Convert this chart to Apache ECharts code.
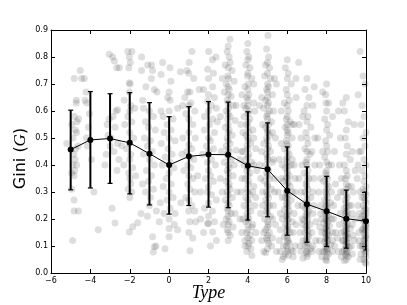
<!DOCTYPE html>
<html><head><meta charset="utf-8">
<script src="https://cdn.jsdelivr.net/npm/echarts@6/dist/echarts.min.js"></script>
<style>html,body{margin:0;padding:0;background:#fff}#c{width:407px;height:305px}</style>
</head><body><div id="c"></div>
<script>
// Type categories and summary statistics (mean with error bar ends)
const types = [-5,-4,-3,-2,-1,0,1,2,3,4,5,6,7,8,9,10];
const means = [.457,.493,.498,.482,.442,.400,.432,.439,.438,.397,.384,.305,.255,.229,.201,.192];
const upper = [.603,.672,.664,.668,.631,.579,.616,.635,.633,.597,.556,.467,.393,.358,.307,.300];
const lower = [.308,.315,.332,.293,.252,.218,.250,.244,.242,.196,.208,.140,.114,.098,.092,.085];
const xTicks = [-6,-4,-2,0,2,4,6,8,10];

// Individual observations, grouped by type
const ptsM5 = [[-4.82,.72],[-4.51,.75],[-4.31,.72],[-4.71,.64],[-4.72,.63],[-4.82,.58],[-4.68,.56],[-4.77,.53],[-4.88,.50],[-4.70,.52],[-4.95,.55],[-4.62,.47],[-4.85,.44],[-4.78,.42],[-4.90,.40],[-4.70,.40],[-4.80,.38],[-4.95,.37],[-4.83,.36],[-4.95,.31],[-4.83,.27],[-4.83,.23],[-4.61,.23],[-4.90,.12],[-4.60,.57],[-4.75,.46],[-5.20,.48]];
const ptsM4 = [[-4.44,.72],[-4.27,.64],[-4.22,.67],[-4.19,.63],[-4.10,.54],[-4.20,.50],[-4.15,.47],[-3.82,.30],[-3.60,.16],[-3.95,.42],[-4.05,.59]];
const ptsM3 = [[-3.04,.81],[-2.87,.80],[-2.78,.785],[-2.53,.76],[-2.66,.76],[-2.70,.60],[-2.62,.605],[-3.04,.57],[-3.0,.47],[-3.26,.40],[-2.75,.54],[-2.85,.58],[-2.62,.48],[-2.90,.24],[-2.75,.185],[-2.65,.38],[-3.10,.51],[-2.95,.50],[-3.20,.44],[-2.80,.45],[-3.15,.55],[-2.55,.42]];
const ptsM2 = [[-2.10,.82],[-1.89,.82],[-2.02,.80],[-1.97,.78],[-2.05,.76],[-2.02,.705],[-1.98,.70],[-2.03,.67],[-2.28,.64],[-1.95,.62],[-2.00,.60],[-2.10,.58],[-1.90,.56],[-2.25,.55],[-2.00,.52],[-1.80,.50],[-2.02,.48],[-2.15,.46],[-1.95,.44],[-2.00,.42],[-2.30,.40],[-1.85,.39],[-2.05,.37],[-2.00,.35],[-1.95,.33],[-2.08,.31],[-1.90,.30],[-2.00,.28],[-2.02,.152],[-1.85,.171],[-1.60,.186],[-1.43,.22],[-1.70,.36],[-2.40,.47],[-1.75,.61]];
const ptsM1 = [[-1.40,.80],[-1.09,.77],[-0.89,.77],[-1.40,.75],[-0.84,.75],[-0.90,.72],[-1.18,.69],[-0.75,.68],[-1.34,.64],[-1.30,.61],[-1.00,.60],[-0.80,.58],[-1.20,.56],[-1.05,.54],[-0.70,.53],[-1.25,.50],[-0.95,.49],[-1.10,.47],[-0.85,.45],[-1.30,.44],[-1.00,.42],[-0.75,.40],[-1.15,.38],[-0.90,.36],[-1.05,.34],[-0.80,.31],[-1.20,.30],[-0.95,.28],[-1.00,.25],[-0.84,.134],[-0.75,.097],[-0.80,.078],[-1.10,.21],[-0.65,.23],[-1.35,.33]];
const pts0 = [[-0.33,.78],[0.04,.76],[-0.41,.735],[0.09,.71],[-0.62,.67],[0.00,.67],[-0.07,.65],[0.05,.64],[-0.41,.60],[0.00,.60],[-0.30,.58],[0.20,.57],[-0.10,.55],[0.10,.53],[-0.25,.52],[0.00,.50],[0.30,.49],[-0.40,.48],[-0.05,.46],[0.15,.44],[-0.20,.43],[0.05,.41],[-0.35,.40],[0.25,.39],[0.00,.37],[-0.15,.35],[0.10,.33],[-0.30,.32],[0.00,.30],[0.20,.28],[-0.10,.27],[-0.45,.26],[0.05,.24],[-0.50,.19],[0.00,.20],[0.00,.165],[0.00,.134],[-0.21,.09],[0.26,.18],[-0.67,.10],[0.30,.22],[-0.25,.22],[0.43,.16],[0.43,.61],[0.69,.62],[0.57,.745]];
const pts1 = [[1.16,.82],[1.02,.78],[0.90,.75],[1.00,.74],[1.25,.72],[0.94,.67],[1.05,.67],[1.53,.68],[0.80,.65],[1.10,.63],[1.00,.62],[1.30,.60],[0.85,.59],[1.00,.57],[1.20,.55],[1.33,.50],[1.00,.52],[0.70,.50],[1.00,.475],[1.15,.46],[0.90,.45],[1.05,.43],[1.25,.42],[0.95,.40],[1.10,.39],[0.75,.38],[1.00,.36],[1.20,.35],[0.95,.33],[1.05,.31],[1.30,.30],[0.85,.28],[1.00,.27],[1.15,.25],[0.99,.23],[1.30,.23],[1.05,.19],[1.35,.19],[1.00,.15],[1.20,.13],[1.06,.082],[0.60,.26],[1.45,.36],[0.65,.44]];
const pts2 = [[2.01,.82],[2.38,.80],[2.20,.79],[1.96,.755],[2.25,.74],[2.00,.72],[2.21,.69],[1.75,.68],[2.00,.66],[2.30,.65],[1.95,.636],[2.15,.62],[2.40,.61],[2.00,.60],[1.80,.58],[2.20,.57],[2.05,.55],[1.79,.53],[2.30,.52],[2.00,.50],[2.10,.49],[1.90,.47],[2.25,.46],[2.00,.45],[1.70,.44],[2.15,.42],[1.95,.41],[2.35,.40],[2.00,.38],[2.10,.36],[1.85,.35],[2.25,.34],[2.00,.32],[1.95,.30],[2.15,.29],[2.40,.27],[2.00,.26],[1.80,.24],[2.20,.23],[2.00,.21],[1.95,.183],[2.00,.183],[2.21,.152],[1.60,.20],[2.40,.12],[2.10,.10],[1.75,.15],[2.30,.19],[1.60,.30],[2.45,.56]];
const pts3 = [[3.09,.866],[3.00,.84],[2.95,.82],[3.05,.80],[3.10,.78],[2.85,.77],[3.00,.76],[3.20,.75],[2.98,.73],[3.02,.72],[3.30,.71],[2.90,.70],[3.00,.69],[3.05,.68],[2.80,.67],[3.00,.66],[3.15,.655],[2.95,.64],[3.00,.63],[3.25,.62],[3.02,.61],[2.90,.60],[3.00,.59],[3.10,.58],[2.98,.57],[3.35,.565],[3.00,.55],[2.85,.54],[3.05,.53],[3.00,.52],[3.20,.51],[2.95,.50],[3.00,.49],[3.10,.48],[2.90,.47],[3.00,.46],[3.40,.455],[3.05,.45],[2.95,.44],[3.00,.43],[3.15,.42],[2.80,.41],[3.00,.40],[3.05,.39],[2.95,.38],[3.00,.37],[3.25,.36],[3.00,.35],[2.90,.34],[3.05,.33],[3.00,.32],[3.10,.31],[2.95,.30],[3.00,.29],[3.20,.28],[2.85,.27],[3.00,.26],[3.05,.25],[2.95,.24],[3.00,.23],[3.15,.22],[3.00,.21],[2.90,.20],[3.05,.19],[3.00,.18],[3.25,.17],[2.95,.16],[3.00,.15],[3.10,.14],[3.00,.12],[2.70,.30],[2.65,.45],[3.45,.30],[2.60,.58],[3.35,.22],[2.75,.18],[3.40,.62],[2.70,.72],[3.30,.40],[2.60,.35]];
const pts4 = [[4.00,.85],[3.95,.82],[4.05,.80],[4.00,.79],[3.90,.77],[4.10,.76],[4.00,.74],[3.98,.73],[4.20,.72],[4.02,.70],[3.85,.69],[4.00,.68],[4.05,.66],[3.95,.65],[4.00,.64],[4.30,.63],[4.00,.62],[3.90,.61],[4.05,.60],[4.00,.59],[3.80,.58],[4.10,.57],[4.00,.56],[3.95,.55],[4.00,.54],[4.25,.53],[4.05,.52],[3.90,.51],[4.00,.50],[4.00,.49],[4.15,.48],[3.95,.47],[4.00,.46],[3.75,.45],[4.05,.44],[4.00,.43],[3.90,.42],[4.20,.41],[4.00,.40],[4.00,.39],[3.95,.38],[4.10,.37],[4.00,.36],[3.85,.35],[4.05,.34],[4.00,.33],[4.30,.32],[3.95,.31],[4.00,.30],[4.10,.29],[3.90,.28],[4.00,.27],[4.05,.26],[3.80,.25],[4.00,.24],[4.15,.23],[3.95,.22],[4.00,.21],[4.05,.20],[3.90,.19],[4.00,.18],[4.20,.17],[4.00,.16],[3.95,.15],[4.10,.14],[4.00,.13],[3.85,.12],[4.05,.11],[4.00,.10],[4.15,.09],[4.20,.065],[3.95,.08],[3.70,.35],[4.40,.46],[3.65,.55],[4.35,.25],[3.60,.20],[4.45,.38],[3.70,.66],[4.40,.15],[3.60,.42],[4.30,.70],
  [3.75,.20],[4.25,.30],[3.80,.40],[4.30,.50],[3.70,.15],[4.35,.60],[3.75,.52],[4.25,.18],[3.65,.30],[4.40,.28],[3.80,.62],[4.30,.40],[3.70,.45],[4.20,.12],[3.85,.10]];
const pts5 = [[5.02,.88],[4.95,.83],[5.05,.80],[5.00,.78],[4.90,.77],[5.10,.76],[5.00,.74],[4.85,.73],[5.15,.72],[5.00,.70],[5.05,.69],[4.95,.68],[5.00,.67],[5.25,.66],[5.00,.65],[4.90,.64],[5.05,.63],[5.00,.62],[4.80,.61],[5.10,.60],[5.00,.59],[4.95,.58],[5.00,.57],[5.20,.56],[5.05,.55],[4.90,.54],[5.00,.53],[5.00,.52],[5.10,.51],[4.95,.50],[5.00,.49],[4.80,.48],[5.05,.47],[5.00,.46],[5.15,.45],[4.95,.44],[5.00,.43],[5.00,.42],[5.25,.41],[4.90,.40],[5.00,.39],[5.05,.38],[4.95,.37],[5.00,.36],[5.10,.35],[4.85,.34],[5.00,.33],[5.00,.32],[5.20,.31],[4.95,.30],[5.00,.29],[5.05,.28],[4.90,.27],[5.00,.26],[5.10,.25],[5.00,.24],[4.95,.23],[5.00,.22],[5.15,.21],[4.85,.20],[5.00,.19],[5.05,.18],[5.00,.17],[4.90,.16],[5.10,.15],[5.00,.14],[4.95,.13],[5.00,.12],[5.05,.11],[5.20,.10],[5.00,.09],[4.90,.075],[5.40,.50],[4.60,.62],[5.35,.30],[4.65,.22],[5.45,.70],[4.60,.40],[5.40,.18],[4.70,.12],[5.30,.60],[5.45,.08],
  [4.75,.30],[5.25,.20],[4.70,.45],[5.30,.42],[4.80,.15],[5.30,.25],[4.75,.55],[5.25,.52],[4.65,.35],[5.35,.35],[4.80,.08],[5.25,.13],[4.70,.65],[5.35,.72],[4.75,.25]];
const pts6 = [[6.58,.78],[6.44,.72],[6.00,.79],[5.90,.76],[6.05,.74],[6.00,.72],[6.20,.70],[5.95,.68],[6.00,.66],[6.10,.64],[5.85,.63],[6.00,.62],[6.05,.60],[6.00,.58],[5.95,.57],[6.15,.56],[6.00,.55],[5.90,.54],[6.00,.53],[6.05,.52],[6.00,.51],[6.25,.50],[5.95,.49],[6.00,.48],[6.05,.47],[5.85,.46],[6.00,.45],[6.10,.44],[6.00,.43],[5.95,.42],[6.00,.41],[6.20,.40],[6.05,.395],[5.90,.39],[6.00,.38],[6.00,.37],[6.10,.36],[5.95,.355],[6.00,.35],[5.80,.34],[6.05,.335],[6.00,.33],[6.15,.32],[6.00,.31],[5.95,.30],[6.00,.295],[6.05,.29],[5.90,.28],[6.00,.275],[6.20,.27],[6.00,.26],[5.95,.255],[6.05,.25],[6.00,.24],[5.85,.235],[6.10,.23],[6.00,.22],[6.00,.215],[5.95,.21],[6.05,.20],[6.00,.195],[6.25,.19],[5.90,.18],[6.00,.175],[6.05,.17],[6.00,.16],[5.95,.155],[6.15,.15],[6.00,.14],[5.85,.135],[6.00,.13],[6.05,.12],[6.00,.115],[6.10,.11],[5.95,.10],[6.00,.09],[6.20,.085],[6.00,.08],[5.90,.07],[6.05,.065],[6.30,.06],[5.75,.05],[6.40,.30],[5.60,.42],[6.35,.55],[5.65,.22],[6.45,.18],[5.60,.12],[6.40,.10],[5.70,.60],[6.35,.40],[5.55,.30],[6.45,.65],[5.65,.08],
  [5.75,.20],[6.25,.30],[5.70,.35],[6.30,.15],[5.80,.10],[6.25,.42],[5.70,.48],[6.35,.22],[5.75,.28],[6.30,.08],[5.65,.16],[6.25,.55],[5.75,.40],[6.40,.35],[5.80,.06]];
const pts7 = [[7.37,.69],[6.78,.58],[7.00,.72],[6.90,.68],[7.10,.65],[7.00,.62],[6.85,.60],[7.05,.58],[7.00,.56],[7.20,.54],[6.95,.52],[7.00,.50],[7.05,.48],[6.90,.46],[7.00,.45],[7.15,.44],[7.00,.42],[6.95,.41],[7.00,.40],[7.05,.38],[6.85,.37],[7.00,.36],[7.10,.35],[7.00,.34],[6.95,.33],[7.00,.32],[7.05,.31],[6.90,.30],[7.00,.29],[7.20,.28],[7.00,.27],[6.95,.26],[7.05,.255],[7.00,.25],[6.90,.24],[7.00,.235],[7.10,.23],[7.00,.22],[6.95,.215],[7.00,.21],[7.05,.20],[6.85,.195],[7.00,.19],[7.15,.18],[7.00,.175],[6.95,.17],[7.00,.16],[7.05,.155],[6.90,.15],[7.00,.14],[7.10,.135],[7.00,.13],[6.95,.12],[7.00,.115],[7.05,.11],[6.90,.10],[7.00,.095],[7.20,.09],[7.00,.08],[6.95,.075],[7.05,.07],[7.00,.06],[6.80,.055],[7.40,.50],[6.60,.35],[7.35,.25],[6.65,.15],[7.45,.12],[6.60,.55],[7.40,.40],[6.70,.08],[7.30,.62],[6.55,.25],[7.45,.19],
  [6.75,.20],[7.25,.15],[6.70,.30],[7.30,.30],[6.80,.12],[7.25,.08],[6.75,.40],[7.30,.22],[6.65,.10],[7.35,.35],[6.75,.25],[7.25,.45],[6.70,.50],[7.30,.10],[6.80,.18]];
const pts8 = [[7.80,.67],[7.97,.63],[8.00,.70],[7.95,.66],[8.10,.63],[8.00,.60],[7.90,.57],[8.05,.55],[8.00,.53],[8.15,.51],[7.95,.49],[8.00,.47],[8.05,.45],[7.90,.43],[8.00,.41],[8.10,.40],[8.00,.38],[7.95,.37],[8.00,.36],[8.05,.35],[7.85,.34],[8.00,.33],[8.10,.32],[8.00,.31],[7.95,.30],[8.00,.29],[8.05,.28],[7.90,.27],[8.00,.265],[8.20,.26],[8.00,.25],[7.95,.245],[8.05,.24],[8.00,.23],[7.90,.225],[8.00,.22],[8.10,.215],[8.00,.21],[7.95,.20],[8.00,.195],[8.05,.19],[7.85,.185],[8.00,.18],[8.15,.175],[8.00,.17],[7.95,.165],[8.00,.16],[8.05,.155],[7.90,.15],[8.00,.145],[8.10,.14],[8.00,.135],[7.95,.13],[8.00,.125],[8.05,.12],[7.90,.115],[8.00,.11],[8.20,.105],[8.00,.10],[7.95,.095],[8.05,.09],[8.00,.085],[7.90,.08],[8.00,.075],[8.10,.07],[8.00,.06],[7.95,.05],[8.00,.045],[8.40,.45],[7.60,.30],[8.35,.20],[7.65,.12],[8.45,.33],[7.55,.50],[8.40,.10],[7.70,.22],[8.30,.58],[7.60,.08],[8.45,.15],[7.65,.40],
  [7.75,.15],[8.25,.20],[7.70,.25],[8.30,.12],[7.80,.08],[8.25,.30],[7.70,.35],[8.30,.08],[7.75,.20],[8.35,.25],[7.80,.45],[8.25,.40],[7.65,.17],[8.30,.15],[7.75,.06]];
const pts9 = [[8.82,.63],[8.60,.60],[9.40,.55],[9.00,.65],[8.90,.60],[9.10,.56],[9.00,.53],[8.95,.50],[9.05,.47],[9.00,.44],[9.20,.42],[8.90,.40],[9.00,.38],[9.05,.36],[8.95,.35],[9.00,.33],[9.10,.32],[9.00,.31],[8.85,.30],[9.00,.29],[9.05,.28],[8.95,.27],[9.00,.26],[9.15,.25],[9.00,.245],[8.90,.24],[9.00,.23],[9.05,.225],[8.95,.22],[9.00,.21],[9.10,.205],[9.00,.20],[8.90,.195],[9.00,.19],[9.05,.18],[8.95,.175],[9.00,.17],[9.20,.165],[9.00,.16],[8.90,.155],[9.00,.15],[9.05,.145],[8.95,.14],[9.00,.135],[9.10,.13],[9.00,.125],[8.85,.12],[9.00,.115],[9.05,.11],[8.95,.105],[9.00,.10],[9.15,.095],[9.00,.09],[8.90,.085],[9.00,.08],[9.05,.075],[8.95,.07],[9.00,.065],[9.10,.06],[9.00,.05],[8.90,.045],[9.35,.30],[8.65,.18],[9.45,.20],[8.55,.28],[9.40,.12],[8.60,.08],[9.30,.45],[8.70,.50],[9.45,.38],[8.55,.13],
  [8.75,.15],[9.25,.10],[8.70,.22],[9.30,.18],[8.80,.08],[9.25,.25],[8.70,.30],[9.30,.07],[8.75,.35],[9.35,.14],[8.80,.12],[9.25,.32],[8.65,.40],[9.30,.22],[8.75,.06]];
const pts10 = [[9.70,.82],[9.85,.73],[9.95,.70],[9.80,.62],[9.60,.66],[9.90,.58],[9.75,.55],[10.0,.52],[9.85,.50],[9.95,.47],[9.65,.45],[9.90,.42],[10.0,.40],[9.80,.38],[9.95,.36],[9.90,.34],[10.0,.32],[9.85,.31],[9.95,.30],[10.0,.29],[9.90,.28],[9.95,.27],[10.0,.26],[9.85,.25],[9.95,.24],[10.0,.235],[9.90,.23],[10.0,.22],[9.95,.215],[9.80,.21],[10.0,.20],[9.95,.195],[9.90,.19],[10.0,.18],[9.95,.175],[10.0,.17],[9.85,.165],[9.95,.16],[10.0,.155],[9.90,.15],[10.0,.14],[9.95,.135],[10.0,.13],[9.90,.125],[9.95,.12],[10.0,.11],[9.85,.105],[9.95,.10],[10.0,.09],[9.90,.085],[10.0,.08],[9.95,.07],[10.0,.06],[9.90,.05],[9.95,.04],[10.0,.035],[9.60,.25],[9.65,.15],[9.55,.35],[9.70,.10],[9.60,.40],
  [9.75,.20],[9.80,.10],[9.70,.30],[9.75,.07],[9.80,.16],[9.65,.22],[9.75,.45],[9.70,.05],[9.80,.28],[9.65,.12]];

const allPts = [].concat(ptsM5,ptsM4,ptsM3,ptsM2,ptsM1,pts0,pts1,pts2,pts3,pts4,pts5,pts6,pts7,pts8,pts9,pts10);
const meanData = types.map((t,i)=>[t, means[i]]);
const errData = types.map((t,i)=>[t, lower[i], upper[i]]);

const fontTick = {color:'#000', fontSize:8, fontFamily:'DejaVu Sans'};
const chart = echarts.init(document.getElementById('c'), null, {renderer:'canvas'});
const xBase = {type:'value', min:-6, max:10, interval:2, splitLine:{show:false},
  axisLine:{onZero:false, lineStyle:{color:'#000', width:1}},
  axisTick:{inside:true, length:4, lineStyle:{color:'#000'}}};
const yBase = {type:'value', min:0, max:0.9, interval:0.1, splitLine:{show:false},
  axisLine:{onZero:false, show:true, lineStyle:{color:'#000', width:1}},
  axisTick:{show:true, inside:true, length:4, lineStyle:{color:'#000'}}};
chart.setOption({
  animation:false,
  backgroundColor:'#fff',
  grid:{left:51, right:41, top:30, bottom:32, containLabel:false, outerBoundsMode:'none'},
  xAxis:[
    Object.assign({}, xBase, {position:'bottom',
      axisLabel:Object.assign({margin:4, formatter:v=>String(v).replace('-','\u2212')}, fontTick),
      name:'Type', nameLocation:'middle', nameGap:11, nameMoveOverlap:false,
      nameTextStyle:{fontFamily:'Liberation Serif', fontStyle:'italic', fontSize:18, color:'#000'}}),
    Object.assign({}, xBase, {position:'top', axisLabel:{show:false}})
  ],
  yAxis:[
    Object.assign({}, yBase, {position:'left',
      axisLabel:Object.assign({margin:3, formatter:v=>v.toFixed(1)}, fontTick),
      name:'{a|Gini (}{b|G}{a|)}', nameLocation:'middle', nameGap:22, nameRotate:90, nameMoveOverlap:false,
      nameTextStyle:{padding:[0,14,0,0], rich:{a:{fontFamily:'DejaVu Sans', fontSize:16, color:'#000'},
                           b:{fontFamily:'Liberation Serif', fontStyle:'italic', fontSize:17, color:'#000'}}}}),
    Object.assign({}, yBase, {position:'right', axisLabel:{show:false}})
  ],
  series:[
    {type:'scatter', data:allPts, symbolSize:7, clip:true, z:1,
     itemStyle:{color:'rgba(60,60,60,0.21)', borderWidth:0}},
    {type:'custom', data:errData, z:3, clip:true,
     renderItem:(params, api)=>{
       const x = api.value(0);
       const lo = api.coord([x, api.value(1)]);
       const hi = api.coord([x, api.value(2)]);
       const right = params.coordSys.x + params.coordSys.width;
       const c = 2.5;
       const cx2 = Math.min(hi[0] + c, right);
       return {type:'group', children:[
         {type:'line', shape:{x1:hi[0], y1:hi[1], x2:lo[0], y2:lo[1]}, style:{stroke:'#000', lineWidth:2}},
         {type:'line', shape:{x1:hi[0]-c, y1:hi[1], x2:cx2, y2:hi[1]}, style:{stroke:'#000', lineWidth:1.2}},
         {type:'line', shape:{x1:lo[0]-c, y1:lo[1], x2:cx2, y2:lo[1]}, style:{stroke:'#000', lineWidth:1.2}}
       ]};
     }},
    {type:'line', data:meanData, z:4, symbol:'circle', symbolSize:6, showSymbol:true, clip:true,
     lineStyle:{color:'#000', width:1}, itemStyle:{color:'#000'}}
  ]
});
</script></body></html>
